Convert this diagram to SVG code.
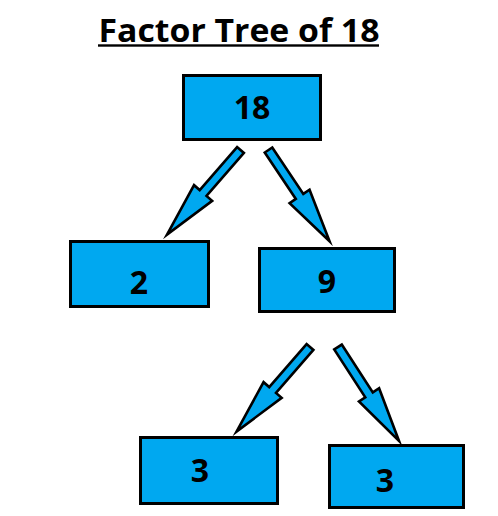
<svg xmlns="http://www.w3.org/2000/svg" width="498" height="516" viewBox="0 0 498 516">
<style>
.box{fill:#00A8F0;stroke:#000;stroke-width:3}
.num{font-family:"Open Sans","Noto Sans",sans-serif;font-weight:bold;font-size:32px;fill:#000;text-anchor:middle}
.title{font-family:"Open Sans","Noto Sans",sans-serif;font-weight:bold;font-size:33px;fill:#000;text-anchor:middle}
.arr{fill:#00A8F0;stroke:#000;stroke-width:2.6;stroke-linejoin:miter;stroke-miterlimit:10}
</style>
<defs>
<path id="arrow" d="M0,-4.5 L57,-4.5 L57,-12 L112,0 L57,12 L57,4.5 L0,4.5 Z"/>
</defs>
<rect width="498" height="516" fill="#fff"/>
<g id="title">
<text class="title" x="239" y="41.7" textLength="281" lengthAdjust="spacingAndGlyphs">Factor Tree of 18</text>
<rect x="98" y="44.3" width="281" height="2.4" fill="#000"/>
</g>
<g id="connectors">
<use href="#arrow" class="arr" transform="translate(240.5,150) rotate(131)"/>
<use href="#arrow" class="arr" transform="translate(268.5,150) rotate(56.2) scale(0.98,1)"/>
<use href="#arrow" class="arr" transform="translate(310,347) rotate(131)"/>
<use href="#arrow" class="arr" transform="translate(338,347) rotate(57)"/>
</g>
<g id="node-18">
<rect class="box" x="183.5" y="75.5" width="137" height="64"/>
<text class="num" x="252" y="119">18</text>
</g>
<g id="node-2">
<rect class="box" x="70.5" y="241.5" width="138" height="65"/>
<text class="num" x="139" y="294">2</text>
</g>
<g id="node-9">
<rect class="box" x="259.5" y="248.5" width="135" height="63"/>
<text class="num" x="327" y="293">9</text>
</g>
<g id="node-3a">
<rect class="box" x="140.5" y="437.5" width="137" height="66"/>
<text class="num" x="200" y="482">3</text>
</g>
<g id="node-3b">
<rect class="box" x="329.5" y="445.5" width="134" height="62"/>
<text class="num" x="385" y="492">3</text>
</g>
</svg>
